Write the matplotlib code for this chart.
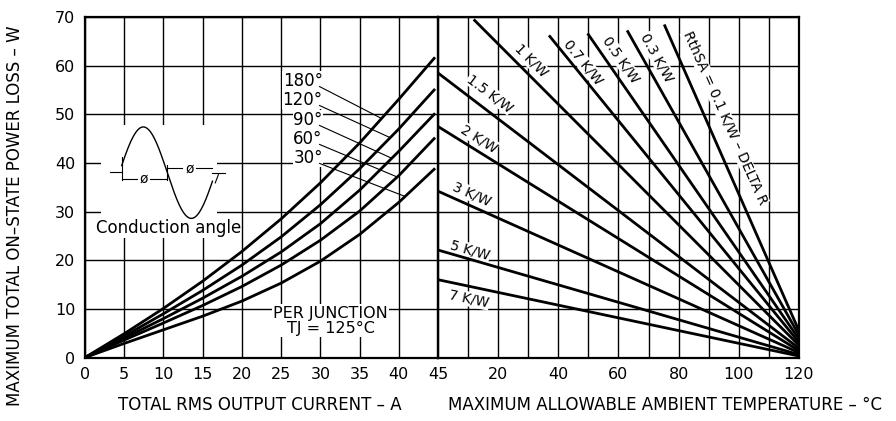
import numpy as np
import matplotlib.pyplot as plt
from matplotlib.patches import Rectangle

# left panel: on-state power loss vs total rms current, one curve per conduction angle
current = [0, 5, 10, 15, 20, 25, 30, 35, 40, 44.5]
angle_labels = ["180°", "120°", "90°", "60°", "30°"]
loss_180 = [0, 4.9, 10.1, 15.7, 21.8, 28.5, 35.9, 44.1, 53.1, 61.5]
loss_120 = [0, 4.4, 9.0, 13.8, 19.0, 24.8, 31.4, 38.8, 47.0, 55.0]
loss_90 = [0, 4.0, 8.0, 12.2, 16.7, 21.7, 27.5, 34.4, 42.4, 50.0]
loss_60 = [0, 3.6, 7.1, 10.7, 14.6, 19.0, 24.1, 30.1, 37.4, 45.0]
loss_30 = [0, 2.9, 5.7, 8.5, 11.6, 15.3, 19.8, 25.3, 31.9, 38.7]
label_y = [56.9, 53.0, 48.9, 45.0, 41.1]      # where the angle labels sit
leader_end_x = [37.8, 38.9, 39.1, 39.8, 40.8]  # where the leader hits its curve

# right panel: heatsink lines, start point and value at 120 C
rth_labels = ["0.1", "0.3", "0.5", "0.7", "1", "1.5", "2", "3", "5", "7"]
t_start = [75.4, 63.1, 50.0, 37.2, 12.2, 0, 0, 0, 0, 0]
p_start = [68.2, 67.0, 66.4, 66.0, 69.3, 58.5, 47.5, 34.2, 22.1, 16.0]
p_end = [5.5, 4.6, 3.8, 3.1, 2.5, 1.9, 1.4, 1.0, 0.6, 0.3]
t_end = 120
# label placement (temperature, power, rotation)
lab_t = [95.4, 72.9, 60.7, 48.4, 31.0, 17.3, 13.7, 11.2, 10.7, 10.4]
lab_p = [49.3, 61.6, 61.3, 60.6, 61.0, 54.3, 45.0, 33.6, 22.0, 12.0]
lab_rot = [-66, -61, -55, -51, -45, -37, -32, -24, -16, -12]

FS = 11.5
fig = plt.figure(figsize=(8.96, 4.21), dpi=100)
axL = fig.add_axes([0.0949, 0.1508, 0.3940, 0.8088])
axR = fig.add_axes([0.4888, 0.1508, 0.4029, 0.8088])

for ax in (axL, axR):
    ax.set_ylim(0, 70)
    ax.set_axisbelow(True)
    ax.grid(True, color="black", lw=1.0)
    ax.tick_params(length=0, pad=7, labelsize=FS)
    for s in ax.spines.values():
        s.set_linewidth(1.6)

axL.set_xlim(0, 45)
axL.set_xticks(np.arange(0, 46, 5))
axL.set_yticks(np.arange(0, 71, 10))

axR.set_xlim(0, 120)
axR.set_xticks(np.arange(0, 121, 10))
axR.set_xticklabels([str(t) if t % 20 == 0 and t > 0 else "" for t in range(0, 121, 10)])
axR.set_yticks(np.arange(0, 71, 10))
axR.set_yticklabels([])

# curves
curves = [loss_180, loss_120, loss_90, loss_60, loss_30]
for lab, ys, ly, lx in zip(angle_labels, curves, label_y, leader_end_x):
    axL.plot(current, ys, color="black", lw=2.0, zorder=3)
    axL.text(30.3, ly, lab, ha="right", va="center", fontsize=12, zorder=2.5,
             bbox=dict(facecolor="white", edgecolor="none", pad=0.5))
    axL.plot([29.9, lx], [ly - 1.2, np.interp(lx, current, ys)],
             color="black", lw=0.8, zorder=3)

# conduction angle sketch
axL.add_patch(Rectangle((2.0, 24.6), 14.8, 23.2, facecolor="white",
                        edgecolor="none", zorder=2))
ph = np.linspace(0.05 * np.pi, 1.94 * np.pi, 200)
sx = 4.37 + ph / np.pi * 6.12
axL.plot(sx, 38.0 + 9.4 * np.sin(ph), color="black", lw=1.0, zorder=3)
axL.plot([4.68, 4.68], [36.5, 41.3], color="black", lw=0.8, zorder=3)
axL.plot([3.2, 4.68], [38.2, 38.2], color="black", lw=0.8, zorder=3)
axL.plot([10.5, 10.5], [36.5, 39.6], color="black", lw=0.8, zorder=3)
axL.plot([4.68, 6.6], [36.8, 36.8], color="black", lw=0.8, zorder=3)
axL.plot([8.3, 10.5], [36.8, 36.8], color="black", lw=0.8, zorder=3)
axL.plot([10.5, 12.4], [38.9, 38.9], color="black", lw=0.8, zorder=3)
axL.plot([14.2, 16.16], [38.9, 38.9], color="black", lw=0.8, zorder=3)
axL.plot([16.16, 17.9], [38.0, 38.0], color="black", lw=0.8, zorder=3)
axL.plot([17.0, 16.6], [37.6, 35.9], color="black", lw=0.8, zorder=3)
axL.text(7.44, 36.8, "ø", ha="center", va="center", fontsize=10, zorder=3)
axL.text(13.3, 38.9, "ø", ha="center", va="center", fontsize=10, zorder=3)
axL.text(10.6, 26.7, "Conduction angle", ha="center", va="center",
         fontsize=12, zorder=3)

axL.text(31.3, 7.6, "PER JUNCTION\nTJ = 125°C", ha="center", va="center",
         fontsize=11.5, linespacing=1.0, zorder=2.5,
         bbox=dict(facecolor="white", edgecolor="none", pad=1.0))

# heatsink lines
for i, r in enumerate(rth_labels):
    axR.plot([t_start[i], t_end], [p_start[i], p_end[i]], color="black",
             lw=2.0, zorder=3)
    txt = "RthSA = 0.1 K/W – DELTA R" if r == "0.1" else r + " K/W"
    axR.text(lab_t[i], lab_p[i], txt, rotation=lab_rot[i], rotation_mode="anchor",
             ha="center", va="center", fontsize=10, zorder=2.5,
             bbox=dict(facecolor="white", edgecolor="none", pad=0.3))

fig.text(0.0167, 0.487, "MAXIMUM TOTAL ON–STATE POWER LOSS – W", rotation=90,
         ha="center", va="center", fontsize=12)
fig.text(0.290, 0.038, "TOTAL RMS OUTPUT CURRENT – A", ha="center",
         va="center", fontsize=12)
fig.text(0.742, 0.038, "MAXIMUM ALLOWABLE AMBIENT TEMPERATURE – °C",
         ha="center", va="center", fontsize=12)

fig.savefig("out.png", dpi=100)
